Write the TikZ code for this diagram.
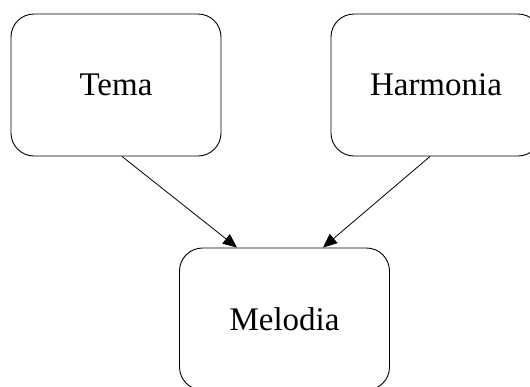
\documentclass[tikz,border=0pt]{standalone}
\usepackage{fontspec}
\setmainfont{Liberation Serif}
\usetikzlibrary{arrows.meta,calc}
\begin{document}
\begin{tikzpicture}[x=1pt,y=1pt,
  box/.style={draw=black, line width=0.9pt, rounded corners=23pt,
    minimum width=210pt, minimum height=142pt, inner sep=0pt,
    font=\fontsize{33}{39}\selectfont},
  link/.style={draw=black, line width=0.8pt,
    -{Triangle[length=14pt,width=12pt]}}]
  % page frame; shapes running past it are cut off
  \path[use as bounding box, clip] (0,0) rectangle (530,-386);
  \node[box] (tema) at (116,-85) {\raisebox{-3pt}{Tema}};
  \node[box] (harm) at (436,-85) {\raisebox{-3pt}{Harmonia}};
  \node[box] (melo) at (284.5,-319) {\raisebox{-2pt}{Melodia}};
  \draw[link] ($(tema.south)+(6,0)$) -- ($(melo.north)+(-47.5,0)$);
  \draw[link] ($(harm.south)+(-6,0)$) -- ($(melo.north)+(38.5,0)$);
\end{tikzpicture}
\end{document}
